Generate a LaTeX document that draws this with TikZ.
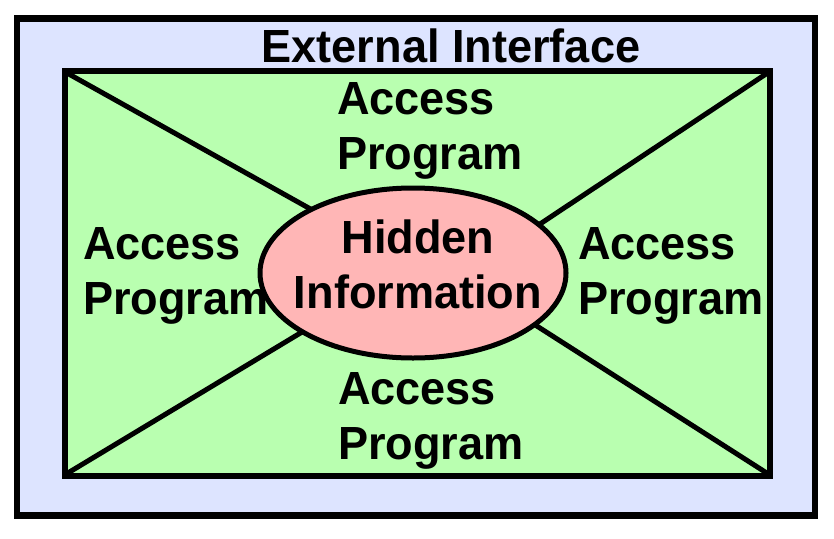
\documentclass[tikz,border=0pt]{standalone}
\usepackage{fontspec}
\usetikzlibrary{shapes.geometric}
\newfontfamily\diagfont{Liberation Sans Bold}[FakeStretch=0.97]
\definecolor{outerblue}{HTML}{DDE4FF}
\definecolor{innergreen}{HTML}{B9FFB0}
\definecolor{hidpink}{HTML}{FFB6B6}
\tikzset{
  frame/.style={draw=black, line width=6.5pt},
  spoke/.style={draw=black, line width=5pt},
  lbl/.style={inner sep=0pt, outer sep=0pt, font=\diagfont\fontsize{46.5}{55}\selectfont},
}
\begin{document}
\begin{tikzpicture}[x=1pt, y=-1pt]
\useasboundingbox (0,0) rectangle (834,538);
% outer frame
\draw[frame, fill=outerblue] (17,18.5) rectangle (815,515.5);
% inner green rectangle
\draw[frame, line width=6pt, fill=innergreen] (65,71) rectangle (769.5,475.5);
\coordinate (tl) at (67,73);
\coordinate (tr) at (767.5,73);
\coordinate (bl) at (67,473.5);
\coordinate (br) at (767.5,473.5);
% hidden information ellipse
\node[ellipse, minimum width=306pt, minimum height=170pt, inner sep=0pt] (hid) at (413,273) {};
\draw[spoke] (tl) -- (hid.148);
\draw[spoke] (tr) -- (hid.21.6);
\draw[spoke] (bl) -- (hid.208);
\draw[spoke] (br) -- (hid.337);
\draw[spoke, fill=hidpink] (413,273) ellipse [x radius=153pt, y radius=85pt];
% labels
\node[lbl, anchor=base] (ext) at (451,62) {External Interface};
\node[lbl, anchor=north west, align=left] (apt) at (337,83) {Access\\Program};
\node[lbl, anchor=north west, align=left] (apl) at (83,228) {Access\\Program};
\node[lbl, anchor=north west, align=left] (apr) at (578,228) {Access\\Program};
\node[lbl, anchor=north west, align=left] (apb) at (338,373) {Access\\Program};
\node[lbl, anchor=north, align=center] (hidtext) at (418,220) {Hidden\\Information};
\end{tikzpicture}
\end{document}
